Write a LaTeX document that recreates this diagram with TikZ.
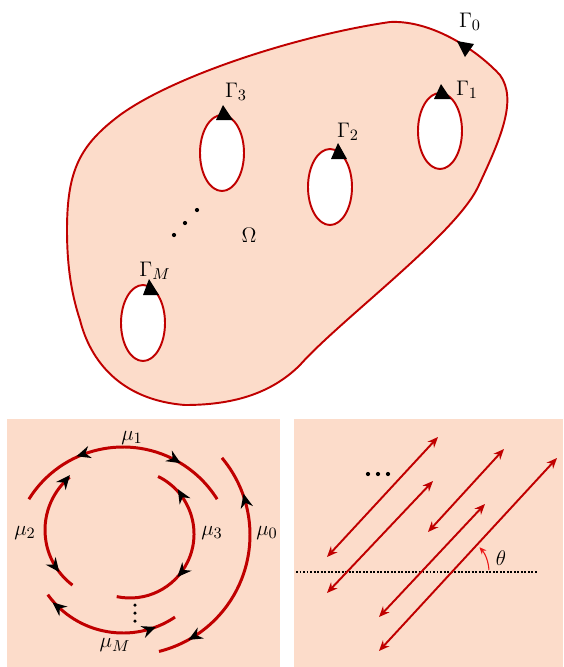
\documentclass[tikz,border=0pt]{standalone}
\usetikzlibrary{arrows.meta,decorations.markings}
\definecolor{Peach}{RGB}{252,220,202}
\definecolor{DarkRed}{RGB}{192,0,0}
\definecolor{BrightRed}{RGB}{235,20,20}

\begin{document}
\begin{tikzpicture}[
  x=0.02cm, y=0.02cm,
  lbl/.style={font=\fontsize{13}{15}\selectfont, inner sep=0pt},
  border/.style={DarkRed, line width=1.1pt},
  hole/.style={DarkRed, line width=1.1pt, fill=white},
  panel/.style={fill=Peach, draw=none},
  curr/.style={DarkRed, line width=1.7pt},
  ray/.style={DarkRed, line width=1.1pt, {Stealth[length=6pt,width=5pt]}-{Stealth[length=6pt,width=5pt]}},
  dotline/.style={black, line width=1.2pt, dash pattern=on 1.1pt off 0.9pt},
  dotmark/.style={circle, fill=black, inner sep=0pt, minimum size=2.4pt},
  marks/.style 2 args={postaction={decorate, decoration={markings,
      mark=at position #1 with {\arrow[black]{Stealth[length=8pt,width=7pt,reversed]}},
      mark=at position #2 with {\arrow[black]{Stealth[length=8pt,width=7pt]}}}}}
]
\useasboundingbox (0,0) rectangle (564,-667);

% domain with holes
\draw[border, fill=Peach] (67,-230) .. controls (67,-170) and (80,-145) .. (120,-115)
  .. controls (175,-75) and (300,-35) .. (390,-22)
  .. controls (430,-20) and (475,-48) .. (500,-75)
  .. controls (518,-100) and (500,-140) .. (478,-187)
  .. controls (455,-235) and (340,-320) .. (300,-365)
  .. controls (270,-395) and (230,-405) .. (185,-405)
  .. controls (120,-400) and (90,-360) .. (80,-320)
  .. controls (70,-290) and (67,-260) .. (67,-230) -- cycle;

\coordinate (h1) at (440,-131);
\coordinate (h2) at (330,-187);
\coordinate (h3) at (222,-153);
\coordinate (hM) at (143,-323);
\foreach \h in {h1,h2,h3,hM}
  \draw[hole] (\h) ellipse [x radius=22, y radius=38];

\fill (457,-41) -- (474,-44) -- (465,-57) -- cycle;
\fill (434,-99) -- (441,-84) -- (451,-99) -- cycle;
\fill (331,-159) -- (338,-143) -- (347,-159) -- cycle;
\fill (216,-120) -- (223,-105) -- (233,-120) -- cycle;
\fill (143,-295) -- (149,-279) -- (159,-295) -- cycle;

\node[lbl] (g0) at (470,-22) {$\Gamma_0$};
\node[lbl] (g1) at (467,-90) {$\Gamma_1$};
\node[lbl] (g2) at (348,-132) {$\Gamma_2$};
\node[lbl] (g3) at (236,-92) {$\Gamma_3$};
\node[lbl] (gM) at (155,-271) {$\Gamma_M$};
\node[lbl] (om) at (249,-235) {$\Omega$};
\node[dotmark] (d1) at (197,-210) {};
\node[dotmark] (d2) at (185,-223) {};
\node[dotmark] (d3) at (174,-235) {};

% left panel: boundary densities
\fill[panel] (7,-419) rectangle (280,-667);
\coordinate (c1) at (123,-558);
\coordinate (c0) at (130,-535);
\coordinate (c2) at (114,-530);
\coordinate (c3) at (130,-534);
\coordinate (cM) at (123,-540);
\draw[curr, marks={0.35}{0.77}] (c1) ++(148:111) arc[start angle=148, end angle=32, radius=111];
\draw[curr, marks={0.23}{0.87}] (c0) ++(40:120) arc[start angle=40, end angle=-76, radius=120];
\draw[curr, marks={0.1}{0.85}] (c2) ++(130:69) arc[start angle=130, end angle=233, radius=69];
\draw[curr, marks={0.2}{0.64}] (c3) ++(64:64) arc[start angle=64, end angle=-102, radius=64];
\draw[curr, marks={0.16}{0.85}] (cM) ++(216:93) arc[start angle=216, end angle=304, radius=93];

\node[lbl] (mu1) at (132,-438) {$\mu_1$};
\node[lbl] (mu2) at (25,-533) {$\mu_2$};
\node[lbl] (mu3) at (212,-533) {$\mu_3$};
\node[lbl] (mu0) at (267,-533) {$\mu_0$};
\node[lbl] (muM) at (115,-645) {$\mu_M$};
\node[dotmark, minimum size=2pt] (v1) at (135,-605) {};
\node[dotmark, minimum size=2pt] (v2) at (135,-613) {};
\node[dotmark, minimum size=2pt] (v3) at (135,-621) {};

% right panel: rays
\fill[panel] (294,-419) rectangle (563,-667);
\coordinate (lineL) at (296,-572);
\coordinate (lineR) at (538,-572);
\draw[dotline] (lineL) -- (lineR);

\coordinate (r1a) at (327,-557); \coordinate (r1b) at (438,-437);
\coordinate (r2a) at (327,-593); \coordinate (r2b) at (433,-481);
\coordinate (r3a) at (428,-532); \coordinate (r3b) at (504,-449);
\coordinate (r4a) at (379,-617); \coordinate (r4b) at (485,-504);
\coordinate (r5a) at (379,-651); \coordinate (r5b) at (557,-458);
\foreach \r in {r1,r2,r3,r4,r5}
  \draw[ray] (\r a) -- (\r b);

\coordinate (o) at (452,-572);
\draw[BrightRed, line width=0.6pt, -{Stealth[length=4pt,width=3.5pt]}] (o) ++(3:37) arc[start angle=3, end angle=42, radius=37];
\node[lbl] (th) at (501,-558) {$\theta$};

\node[dotmark] (e1) at (368,-474) {};
\node[dotmark] (e2) at (378,-474) {};
\node[dotmark] (e3) at (388,-474) {};
\end{tikzpicture}
\end{document}
